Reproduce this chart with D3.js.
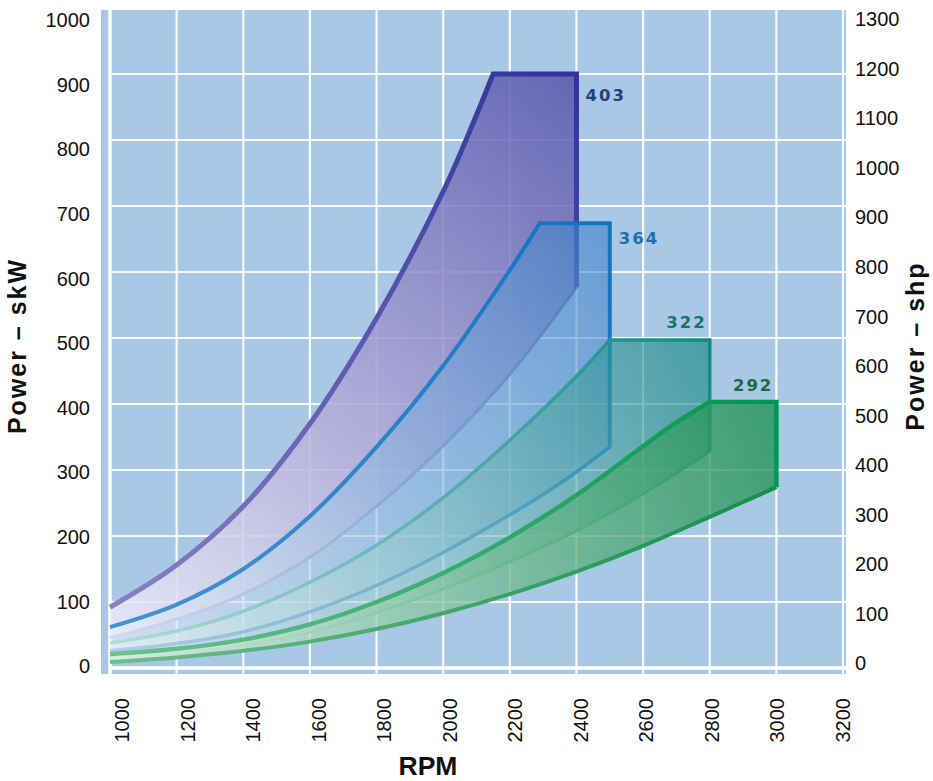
<!DOCTYPE html>
<html><head><meta charset="utf-8">
<script src="https://cdn.jsdelivr.net/npm/d3@7"></script>
<style>body{margin:0;background:#fff} svg{display:block}</style>
</head><body>
<svg id="chart" width="933" height="781"></svg>
<script>
// ---- data ----
const rpmTicks = [1000,1200,1400,1600,1800,2000,2200,2400,2600,2800,3000,3200];
const kwTicks  = [0,100,200,300,400,500,600,700,800,900,1000];
const shpTicks = [0,100,200,300,400,500,600,700,800,900,1000,1100,1200,1300];
const models   = ["403","364","322","292"];
const maxRpm   = [2400,2500,2800,3000];

const upperRpm403 = [1000,1200,1400,1600,1800,2000,2100,2150];
const upperKw403  = [92,156,245,370,530,722,838,900];
const lowerRpm403 = [1000,1200,1400,1600,1800,2000,2200,2400];
const lowerKw403  = [46,74,112,168,245,337,445,577];

const upperRpm364 = [1000,1200,1400,1600,1800,2000,2200,2290];
const upperKw364  = [62,96,150,230,335,458,603,674];
const lowerRpm364 = [1000,1200,1400,1600,1800,2000,2200,2300,2400,2500];
const lowerKw364  = [26,37,55,85,125,175,232,263,297,335];

const upperRpm322 = [1000,1200,1400,1600,1800,2000,2200,2400,2500];
const upperKw322  = [38,56,86,130,186,258,345,442,497];
const lowerRpm322 = [1000,1200,1400,1600,1800,2000,2200,2400,2600,2800];
const lowerKw322  = [15,22,34,54,84,120,161,208,264,328];

const upperRpm292 = [1000,1200,1400,1600,1800,2000,2200,2400,2600,2700,2800];
const upperKw292  = [21,29,43,66,100,144,198,262,336,372,403];
const lowerRpm292 = [1000,1200,1400,1600,1800,2000,2200,2400,2600,2800,3000];
const lowerKw292  = [9,16,26,40,59,83,112,146,185,229,274];

// ---- styles ----
const fillStops = [
  [["0","#f2f2fb"],["0.45","#b2aad8"],["1","#5856ac"]],
  [["0","#eef3fa"],["0.5","#8cb6de"],["1","#3a7fc8"]],
  [["0","#eaf4f4"],["0.5","#8ac4c6"],["1","#0f8480"]],
  [["0","#e6f4ec"],["0.5","#7cc09a"],["1","#1a8e4c"]]
];
const fillOpacity = [0.86, 0.6, 0.62, 0.76];
const upStroke = [
  [["0","#8e86c6"],["1","#32329c"]],
  [["0","#4a94d2"],["1","#0f74c0"]],
  [["0","#b8dcdc"],["0.5","#62b2b2"],["1","#0e8a88"]],
  [["0","#70c090"],["1","#009650"]]
];
const lowStroke = [
  [["0","#c2b6e2"],["1","#5050aa"]],
  [["0","#5a8ed8"],["1","#1472cc"]],
  [["0","#a8d8bc"],["1","#2a9a72"]],
  [["0","#70bc8c"],["1","#0e8c48"]]
];
const upWidth  = [5, 4, 3.5, 4.5];
const lowWidth = [3, 3.5, 3, 4];
const labelColor = ["#2a3c7c","#1f6fa8","#14756e","#1b6b3f"];

// ---- scales ----
const x = d3.scaleLinear([1000,3200],[110,843]);
const y = d3.scaleLinear([0,1000],[668,8]);
const xLab = d3.scaleLinear([1000,3200],[122,843]);
const yLab = d3.scaleLinear([0,1000],[668,22]);
const yShp = d3.scaleLinear([0,1300],[665,21]);

const svg = d3.select("#chart");
const defs = svg.append("defs");

// background
svg.append("rect").attr("x", x(1000)-9).attr("y", 10)
  .attr("width", 846-(x(1000)-9)).attr("height", 674-10).attr("fill","#a9c8e5");

// grid
const g = svg.append("g");
g.selectAll("line.v").data(rpmTicks).join("line")
  .attr("x1", d=>x(d)).attr("x2", d=>x(d)).attr("y1", 10).attr("y2", 674)
  .attr("stroke","#fff").attr("stroke-opacity", d=>d===1000?1:0.9)
  .attr("stroke-width", d=>d===1000?3.5:2.2);
g.selectAll("line.h").data(kwTicks.filter(d=>d<1000)).join("line")
  .attr("x1", x(1000)).attr("x2", 846).attr("y1", d=>y(d)).attr("y2", d=>y(d))
  .attr("stroke","#fff").attr("stroke-opacity", d=>d===0?1:0.9)
  .attr("stroke-width", d=>d===0?3.5:2.2);

// bands
const bands = [
  {uR:upperRpm403,uK:upperKw403,lR:lowerRpm403,lK:lowerKw403},
  {uR:upperRpm364,uK:upperKw364,lR:lowerRpm364,lK:lowerKw364},
  {uR:upperRpm322,uK:upperKw322,lR:lowerRpm322,lK:lowerKw322},
  {uR:upperRpm292,uK:upperKw292,lR:lowerRpm292,lK:lowerKw292}
];
const curve = d3.line().curve(d3.curveCatmullRom.alpha(0.5));

function grad(id, stops, x1, y1, x2, y2){
  const lg = defs.append("linearGradient").attr("id", id)
    .attr("gradientUnits","userSpaceOnUse")
    .attr("x1",x1).attr("y1",y1).attr("x2",x2).attr("y2",y2);
  stops.forEach(s=>lg.append("stop").attr("offset",s[0]).attr("stop-color",s[1]));
  return "url(#"+id+")";
}

bands.forEach((b,i)=>{
  const top = b.uK[b.uK.length-1];
  const up = b.uR.map((r,k)=>[x(r), y(b.uK[k])]);
  const lo = b.lR.map((r,k)=>[x(r), y(b.lK[k])]);
  const plateauEnd = [x(maxRpm[i]), y(top)];
  const lowEnd = lo[lo.length-1];
  const upperD = curve(up) + "L" + plateauEnd.join(",") + "L" + lowEnd.join(",");
  const fillD = upperD + curve(lo.slice().reverse()).replace(/^M/,"L") + "Z";
  const gx1 = x(1000), gy1 = y(0), gx2 = x(maxRpm[i]), gy2 = y(top);
  const gg = svg.append("g");
  gg.append("path").attr("d", fillD)
    .attr("fill", grad("f"+i, fillStops[i], gx1, gy1, gx2, gy2))
    .attr("fill-opacity", fillOpacity[i]);
  gg.append("path").attr("d", curve(lo)).attr("fill","none")
    .attr("stroke", grad("l"+i, lowStroke[i], gx1, gy1, gx2, gy2))
    .attr("stroke-width", lowWidth[i]).attr("stroke-linecap","butt");
  gg.append("path").attr("d", upperD).attr("fill","none")
    .attr("stroke", grad("u"+i, upStroke[i], gx1, gy1, gx2, gy2))
    .attr("stroke-width", upWidth[i]).attr("stroke-linejoin","miter").attr("stroke-linecap","butt");
  // model label
  const t = gg.append("text").text(models[i])
    .attr("font-family","DejaVu Sans, sans-serif").attr("font-weight","bold")
    .attr("font-size",16.5).attr("letter-spacing",2).attr("fill",labelColor[i])
    .attr("dominant-baseline","middle");
  if (i < 2) {
    t.attr("x", x(maxRpm[i]) + 9).attr("y", y(top) + (i===0?22:16)).attr("text-anchor","start");
  } else {
    t.attr("x", x(maxRpm[i]) - 3).attr("y", y(top) - 16).attr("text-anchor","end");
  }
});

// axes labels
const font = "Liberation Sans, Arial, sans-serif";
svg.append("g").selectAll("text").data(kwTicks).join("text")
  .attr("x", 90).attr("y", d=>yLab(d)).attr("text-anchor","end")
  .attr("dominant-baseline","middle").attr("font-family",font).attr("font-size",20)
  .attr("fill","#111").text(d=>d);
svg.append("g").selectAll("text").data(shpTicks).join("text")
  .attr("x", 855).attr("y", d=>yShp(d)).attr("text-anchor","start")
  .attr("dominant-baseline","middle").attr("font-family",font).attr("font-size",20)
  .attr("fill","#111").text(d=>d);
svg.append("g").selectAll("text").data(rpmTicks).join("text")
  .attr("transform", d=>`translate(${xLab(d)},698) rotate(-90)`)
  .attr("text-anchor","end").attr("dy","0.35em")
  .attr("font-family",font).attr("font-size",20).attr("fill","#111").text(d=>d);

svg.append("text").attr("x", 428).attr("y", 768).attr("text-anchor","middle")
  .attr("dominant-baseline","middle").attr("font-family",font).attr("font-weight","bold")
  .attr("font-size",26.5).attr("fill","#111").text("RPM");
svg.append("text").attr("transform","translate(19,346) rotate(-90)").attr("text-anchor","middle")
  .attr("dominant-baseline","middle").attr("font-family",font).attr("font-weight","bold")
  .attr("font-size",25).attr("letter-spacing",2).attr("fill","#111").text("Power – skW");
svg.append("text").attr("transform","translate(917,346) rotate(-90)").attr("text-anchor","middle")
  .attr("dominant-baseline","middle").attr("font-family",font).attr("font-weight","bold")
  .attr("font-size",25).attr("letter-spacing",2).attr("fill","#111").text("Power – shp");
</script>
</body></html>
